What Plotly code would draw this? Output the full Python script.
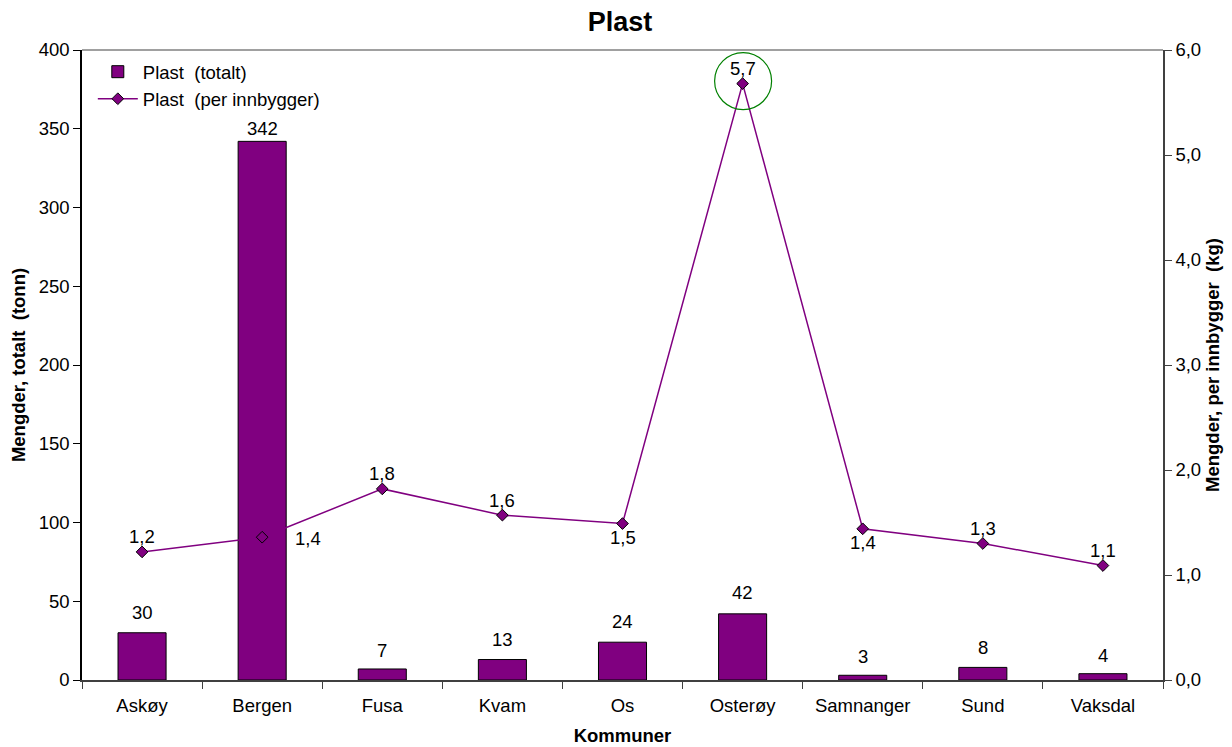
import plotly.graph_objects as go

categories = ["Askøy", "Bergen", "Fusa", "Kvam", "Os", "Osterøy", "Samnanger", "Sund", "Vaksdal"]
totalt = [30, 342, 7, 13, 24, 42, 3, 8, 4]
per_innbygger = [1.22, 1.36, 1.82, 1.57, 1.49, 5.68, 1.44, 1.30, 1.09]

# label placement for per-innbygger values
line_label_pos = ["above", "right", "above", "above", "below", "above", "below", "above", "above"]
bar_label_shift = [8, 0, 6, 8, 8, 9, 6, 7, 6]

PURPLE = "#800080"
FONT = "Liberation Sans, Arial, sans-serif"
FS = 18.5

fig = go.Figure()
fig.add_trace(go.Bar(
    x=categories, y=totalt, name="Plast  (totalt)",
    marker=dict(color=PURPLE, line=dict(color="black", width=1)),
    width=0.4, yaxis="y",
))
fig.add_trace(go.Scatter(
    x=categories, y=per_innbygger, name="Plast  (per innbygger)",
    mode="lines+markers", yaxis="y2",
    line=dict(color=PURPLE, width=1.5),
    marker=dict(symbol="diamond", size=9, color=PURPLE, line=dict(color="black", width=1)),
))

annotations = []
for c, v, s in zip(categories, totalt, bar_label_shift):
    annotations.append(dict(x=c, y=v, xref="x", yref="y", text=str(v), showarrow=False,
                            yanchor="bottom", yshift=s, font=dict(size=FS, color="black", family=FONT)))
for c, v, p in zip(categories, per_innbygger, line_label_pos):
    txt = f"{v:.1f}".replace(".", ",")
    a = dict(x=c, y=v, xref="x", yref="y2", text=txt, showarrow=False,
             font=dict(size=FS, color="black", family=FONT))
    if p == "above":
        a.update(yanchor="middle", yshift=15)
    elif p == "below":
        a.update(yanchor="middle", yshift=-14)
    else:
        a.update(xanchor="left", xshift=31, yanchor="middle", yshift=-1)
    annotations.append(a)

imax = per_innbygger.index(max(per_innbygger))
shapes = [
    dict(type="circle", xref="x", yref="y2", xsizemode="pixel", ysizemode="pixel",
         xanchor=categories[imax], yanchor=per_innbygger[imax],
         x0=-28, x1=29, y0=-26, y1=31, line=dict(color="#008000", width=1.2)),
    dict(type="line", xref="paper", yref="paper", x0=0, x1=1, y0=1, y1=1,
         line=dict(color="#808080", width=1.5)),
]

fig.update_layout(
    width=1224, height=739,
    paper_bgcolor="white", plot_bgcolor="white",
    separators=", ",
    font=dict(family=FONT, size=FS, color="black"),
    title=dict(text="<b>Plast</b>", x=0.5, xanchor="center", y=0.982, yanchor="middle",
               font=dict(size=27, family=FONT, color="black")),
    margin=dict(l=74, r=69, t=42, b=67),
    showlegend=True,
    legend=dict(x=0.01, y=0.995, xanchor="left", yanchor="top", bgcolor="rgba(0,0,0,0)",
                font=dict(size=FS, family=FONT), tracegroupgap=2, itemwidth=40),
    bargap=0.6,
    xaxis=dict(showline=True, linecolor="#404040", linewidth=1.5, ticks="outside", tickson="boundaries",
               ticklen=7, tickcolor="#404040", showgrid=False, automargin=False,
               ticklabelstandoff=8,
               title=dict(text="<b>Kommuner</b>", font=dict(size=FS, family=FONT), standoff=14),
               tickfont=dict(size=FS)),
    yaxis=dict(range=[0, 400], dtick=50, showline=True, linecolor="black", linewidth=1.5,
               ticks="outside", ticklen=7, tickcolor="black", showgrid=False, zeroline=False,
               automargin=False,
               title=dict(text="<b>Mengder, totalt  (tonn)</b>", font=dict(size=FS, family=FONT), standoff=12),
               tickfont=dict(size=FS)),
    yaxis2=dict(range=[0, 6], dtick=1, tickformat=".1f", overlaying="y", side="right",
                showline=True, linecolor="#404040", linewidth=1.5, ticks="outside", ticklen=7,
                tickcolor="#404040", showgrid=False, zeroline=False, automargin=False,
                title=dict(text="<b>Mengder, per innbygger  (kg)</b>", font=dict(size=FS, family=FONT), standoff=6),
                tickfont=dict(size=FS)),
    annotations=annotations,
    shapes=shapes,
)

fig.write_html("out.html")
